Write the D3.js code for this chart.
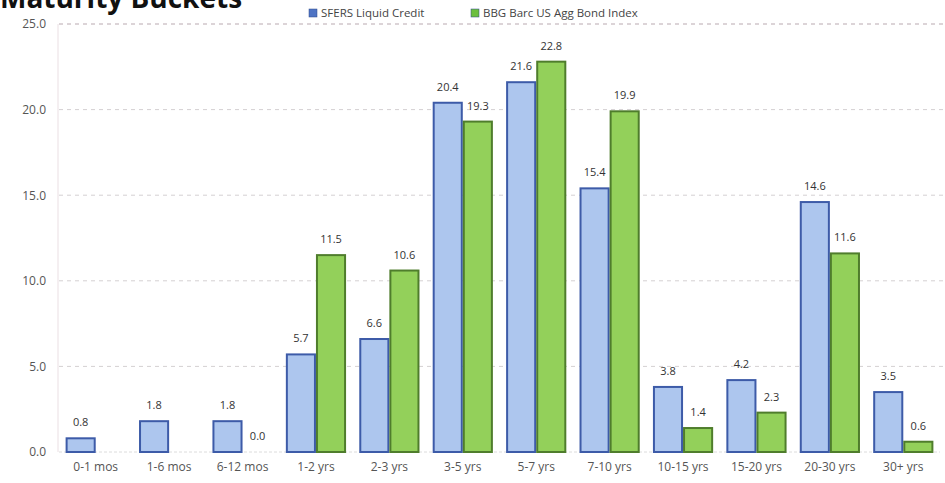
<!DOCTYPE html>
<html>
<head>
<meta charset="utf-8">
<script src="https://cdn.jsdelivr.net/npm/d3@7/dist/d3.min.js"></script>
<style>
  html, body { margin: 0; padding: 0; background: #fff; }
  svg { display: block; }
</style>
</head>
<body>
<svg id="chart" width="945" height="483"></svg>
<script>
// Maturity bucket distribution (% of portfolio)
const categories = ["0-1 mos", "1-6 mos", "6-12 mos", "1-2 yrs", "2-3 yrs", "3-5 yrs",
                    "5-7 yrs", "7-10 yrs", "10-15 yrs", "15-20 yrs", "20-30 yrs", "30+ yrs"];
const seriesNames = ["SFERS Liquid Credit", "BBG Barc US Agg Bond Index"];
const sfersValues = [0.8, 1.8, 1.8, 5.7, 6.6, 20.4, 21.6, 15.4, 3.8, 4.2, 14.6, 3.5];
const bbgValues   = [null, null, 0.0, 11.5, 10.6, 19.3, 22.8, 19.9, 1.4, 2.3, 11.6, 0.6];
const yTicks = [0, 5, 10, 15, 20, 25];

const svg = d3.select("#chart");
const margin = { left: 59, right: 5, top: 24, bottom: 31 };
const W = 945, H = 483;

const x = d3.scaleBand().domain(categories)
  .range([margin.left, W - margin.right]).paddingInner(0.18).paddingOuter(0.09);
const xs = d3.scaleBand().domain(seriesNames).range([0, x.bandwidth()]).padding(0);
const y = d3.scaleLinear().domain([0, 25]).range([H - margin.bottom, margin.top]);

const font = "'Open Sans', 'Liberation Sans', sans-serif";

// Title (runs off the top edge of the frame)
svg.append("text").attr("x", 0).attr("y", 8)
  .attr("font-family", font).attr("font-weight", 700).attr("font-size", 28)
  .attr("fill", "#111").text("Maturity Buckets");

// Gridlines
svg.append("g").selectAll("line").data(yTicks.filter(d => d > 0)).join("line")
  .attr("x1", margin.left).attr("x2", W)
  .attr("y1", d => y(d)).attr("y2", d => y(d))
  .attr("stroke", d => d === 25 ? "#b9a9b0" : "#d4d0d2").attr("stroke-width", 1)
  .attr("stroke-dasharray", "4,4");

// Vertical axis line and baseline
svg.append("line").attr("x1", margin.left - 1).attr("x2", margin.left - 1)
  .attr("y1", y(25)).attr("y2", y(0)).attr("stroke", "#eadfe3");
svg.append("line").attr("x1", margin.left).attr("x2", W - margin.right)
  .attr("y1", y(0)).attr("y2", y(0)).attr("stroke", "#dcdcdc").attr("stroke-dasharray", "3,2");

// Y axis
const yAxis = d3.axisLeft(y).tickValues(yTicks).tickFormat(d3.format(".1f")).tickSize(0).tickPadding(13);
const ya = svg.append("g").attr("transform", `translate(${margin.left},0)`).call(yAxis);
ya.select(".domain").remove();
ya.selectAll("text").attr("font-family", font).attr("font-size", 12).attr("fill", "#555");

// X axis
const xAxis = d3.axisBottom(x).tickSize(0).tickPadding(10);
const xa = svg.append("g").attr("transform", `translate(0,${y(0)})`).call(xAxis);
xa.select(".domain").remove();
xa.selectAll("text").attr("font-family", font).attr("font-size", 12).attr("fill", "#555");

// Bars
const series = [
  { name: seriesNames[0], values: sfersValues, fill: "#adc6ee", stroke: "#3d5ba8" },
  { name: seriesNames[1], values: bbgValues, fill: "#93d05a", stroke: "#4f7d2c" }
];

series.forEach(s => {
  const data = categories.map((c, i) => ({ c, v: s.values[i] })).filter(d => d.v !== null);
  const g = svg.append("g");
  g.selectAll("rect").data(data).join("rect")
    .attr("x", d => x(d.c) + xs(s.name) + 1)
    .attr("width", xs.bandwidth() - 2)
    .attr("y", d => y(d.v))
    .attr("height", d => Math.max(y(0) - y(d.v), 0))
    .attr("fill", s.fill).attr("stroke", s.stroke).attr("stroke-width", 2);
  g.selectAll("text").data(data).join("text")
    .attr("x", d => x(d.c) + xs(s.name) + xs.bandwidth() / 2)
    .attr("y", d => y(d.v) - 12)
    .attr("text-anchor", "middle")
    .attr("font-family", font).attr("font-size", 11).attr("fill", "#333")
    .text(d => d3.format(".1f")(d.v));
});

// Legend
const legend = svg.append("g");
const legendItems = [
  { name: seriesNames[0], fill: "#4f74c4", x: 309 },
  { name: seriesNames[1], fill: "#6cbf3e", x: 471 }
];
legendItems.forEach(it => {
  legend.append("rect").attr("x", it.x).attr("y", 9).attr("width", 8).attr("height", 8)
    .attr("fill", it.fill).attr("stroke", "#2d4a8a").attr("stroke-width", 0.5);
  legend.append("text").attr("x", it.x + 12).attr("y", 17)
    .attr("font-family", font).attr("font-size", 11.5).attr("fill", "#444").text(it.name);
});
</script>
</body>
</html>
